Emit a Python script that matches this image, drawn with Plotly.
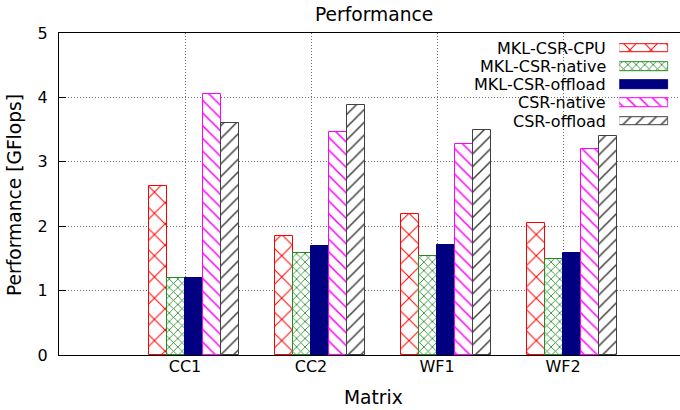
import plotly.graph_objects as go

# ---- data ----
categories = ["CC1", "CC2", "WF1", "WF2"]
series_names = ["MKL-CSR-CPU", "MKL-CSR-native", "MKL-CSR-offload", "CSR-native", "CSR-offload"]
mkl_csr_cpu = [2.63, 1.85, 2.19, 2.05]
mkl_csr_native = [1.20, 1.59, 1.54, 1.49]
mkl_csr_offload = [1.19, 1.70, 1.71, 1.58]
csr_native = [4.06, 3.47, 3.28, 3.20]
csr_offload = [3.60, 3.88, 3.49, 3.40]
y_ticks = [0, 1, 2, 3, 4, 5]

series_values = [mkl_csr_cpu, mkl_csr_native, mkl_csr_offload, csr_native, csr_offload]

# ---- styles ----
styles = [
    dict(line="#ff0000", pattern=dict(shape="x", size=15, solidity=0.13)),
    dict(line="#228b22", pattern=dict(shape="x", size=6, solidity=0.26)),
    dict(line="#000080", pattern=None, fill="#000080"),
    dict(line="#ff00ff", pattern=dict(shape="\\", size=9, solidity=0.17)),
    dict(line="#404040", pattern=dict(shape="/", size=9, solidity=0.17)),
]

FONT = "DejaVu Sans"
W, H = 680, 410
L, R, T, B = 59, 0, 33, 55
PW, PH = W - L - R, H - T - B

n = len(series_names)
bar_w = 1.0 / 7.0
xpos = list(range(len(categories)))


def marker_for(st):
    if st["pattern"] is None:
        return dict(color=st["fill"], line=dict(color=st["line"], width=1))
    p = dict(st["pattern"])
    p.update(fgcolor=st["line"], bgcolor="white", fillmode="replace")
    return dict(color="white", pattern=p, line=dict(color=st["line"], width=1))


fig = go.Figure()
for k, (name, vals, st) in enumerate(zip(series_names, series_values, styles)):
    fig.add_trace(go.Bar(
        x=xpos, y=vals, name=name, width=bar_w, offset=(k - 2) * bar_w,
        marker=marker_for(st), showlegend=False,
    ))

# ---- manual key (text left, swatch right), drawn on an auxiliary axis ----
for k, (name, st) in enumerate(zip(series_names, styles)):
    fig.add_trace(go.Bar(
        x=[1], y=[k], base=[0], orientation="h", width=0.47,
        marker=marker_for(st), showlegend=False, xaxis="x2", yaxis="y2",
        hoverinfo="skip",
    ))
    fig.add_annotation(
        text=name, xref="paper", x=(608 - L) / PW, xanchor="right",
        yref="y2", y=k, yanchor="middle", showarrow=False,
        font=dict(family=FONT, size=16, color="black"),
    )


def px_x(p):
    return (p - L) / PW


def px_y(p):
    return (H - B - p) / PH


# opaque key background (hides grid)
fig.add_shape(type="rect", xref="paper", yref="paper",
              x0=px_x(456), x1=px_x(676), y0=px_y(127), y1=px_y(37),
              fillcolor="white", line=dict(width=0), layer="between")

# titles
fig.add_annotation(text="Performance", xref="paper", x=px_x(373.5), xanchor="center",
                   yref="paper", y=px_y(14), yanchor="middle", showarrow=False,
                   font=dict(family=FONT, size=18.67, color="black"))
fig.add_annotation(text="Matrix", xref="paper", x=px_x(373.5), xanchor="center",
                   yref="paper", y=px_y(397), yanchor="middle", showarrow=False,
                   font=dict(family=FONT, size=18.67, color="black"))
fig.add_annotation(text="Performance [GFlops]", xref="paper", x=px_x(15), xanchor="center",
                   yref="paper", y=px_y(195), yanchor="middle", showarrow=False,
                   textangle=-90, font=dict(family=FONT, size=18.67, color="black"))

x_right = -1 + PW / 126.0

fig.update_layout(
    width=W, height=H,
    margin=dict(l=L, r=R, t=T, b=B, pad=0),
    paper_bgcolor="white", plot_bgcolor="white",
    barmode="overlay", bargap=0,
    font=dict(family=FONT, size=16, color="black"),
    xaxis=dict(
        range=[-1, x_right], tickvals=xpos, ticktext=categories,
        showgrid=True, gridcolor="#707070", griddash="1px,2px", gridwidth=1,
        showline=True, linecolor="black", linewidth=1, mirror=True,
        ticks="", zeroline=False, automargin=False,
        ticklabelstandoff=-3,
        tickfont=dict(family=FONT, size=16, color="black"),
    ),
    yaxis=dict(
        range=[0, 5], tickvals=y_ticks, ticktext=[str(v) for v in y_ticks],
        showgrid=True, gridcolor="#707070", griddash="1px,2px", gridwidth=1,
        showline=True, linecolor="black", linewidth=1, mirror=False,
        ticks="inside", ticklen=7, tickcolor="black", tickwidth=1,
        zeroline=False, automargin=False,
        ticklabelstandoff=7,
        tickfont=dict(family=FONT, size=16, color="black"),
    ),
    xaxis2=dict(domain=[px_x(619.3), px_x(668.3)], range=[0, 1], anchor="y2",
                visible=False, fixedrange=True),
    yaxis2=dict(domain=[px_y(130.1), px_y(39.2)], range=[4.5, -0.5], anchor="x2",
                visible=False, fixedrange=True),
)

fig.write_html("out.html")
